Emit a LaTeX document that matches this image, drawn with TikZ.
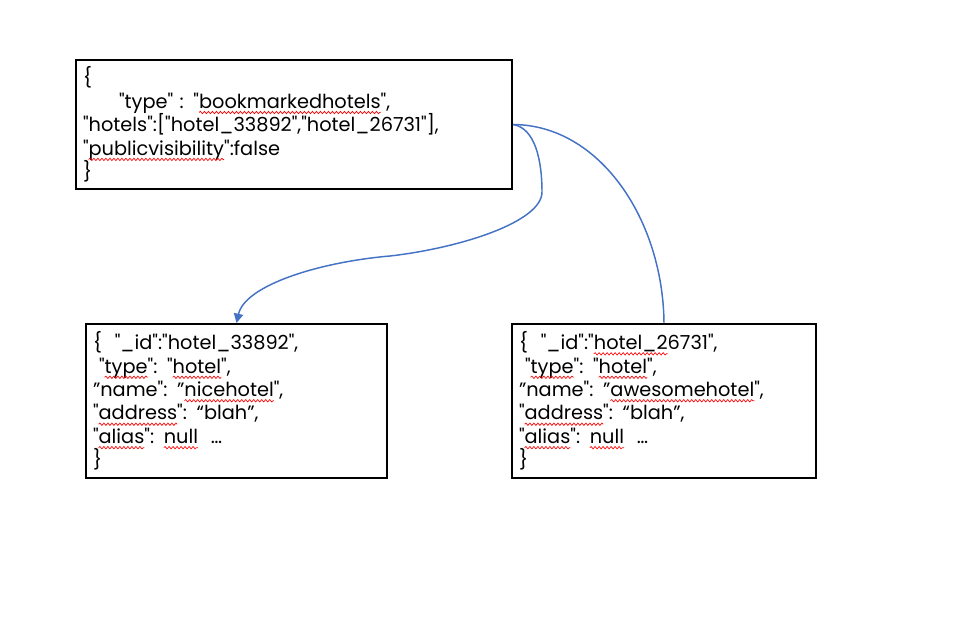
\documentclass[tikz,border=0pt]{standalone}
\usepackage{fontspec}
\setmainfont{Poppins}[Ligatures=TeXOff]
\usetikzlibrary{arrows.meta, decorations.pathmorphing}
\definecolor{LinkBlue}{HTML}{4472C4}
% red wavy spell-check mark under a word
\newcommand\spell[1]{\tikz[baseline=(sw.base)]{%
    \node[draw=none, text width=, align=none, minimum width=0pt, minimum height=0pt,
          inner sep=0pt, outer sep=0pt, anchor=base] (sw) {#1};
    \draw[overlay, red, line width=0.5pt, decorate, decoration={snake, amplitude=0.9pt, segment length=3pt}]
        ([yshift=-3.2pt]sw.base west) -- ([yshift=-3.2pt]sw.base east);}}

\begin{document}
\begin{tikzpicture}[x=0.75pt, y=-0.75pt,
        jsonbox/.style={draw, line width=1.5pt, anchor=north west, align=left, inner xsep=5.25pt, inner ysep=0pt, font=\fontsize{14.5}{17.6}\selectfont},
        link/.style={LinkBlue, line width=1.1pt}
    ]
    \useasboundingbox (0,0) rectangle (960,624);

    \node[jsonbox, text width=316.5pt, minimum height=96.75pt] (bm) at (75,59)
        {\{\\
         \hspace*{27pt}"type" : "\spell{bookmarkedhotels}",\\
         "hotels":["hotel\_33892","hotel\_26731"],\\
         "\spell{publicvisibility}":false\\
         \}};
    \node[jsonbox, text width=215.25pt, minimum height=115.5pt] (h1) at (85,323)
        {\{\ \ "\_id":"hotel\_33892",\\
         \hspace*{4.5pt}"\spell{type}": "\spell{hotel}",\\
         ”name": ”\spell{nicehotel}",\\
         "\spell{address}": “blah”,\\
         "\spell{alias}": \spell{null}\ \ \ldots\\
         \}};
    \node[jsonbox, text width=217.5pt, minimum height=115.5pt] (h2) at (511,323)
        {\{\ \ "\_id":"\spell{hotel\_2}6731",\\
         \hspace*{4.5pt}"\spell{type}": "\spell{hotel}",\\
         ”name": ”\spell{awesomehotel}",\\
         "\spell{address}": “blah”,\\
         "\spell{alias}": \spell{null}\ \ \ldots\\
         \}};

    \draw[link, -{Triangle[length=7pt, width=7pt]}] (bm.east)
        .. controls (535,128) and (542,160) .. (542,192)
        .. controls (542,222) and (460,248) .. (390,256)
        .. controls (320,262) and (245,285) .. (h1.north);
    \draw[link] (bm.east) .. controls (600,125) and (663,220) .. (h2.north);
\end{tikzpicture}
\end{document}
